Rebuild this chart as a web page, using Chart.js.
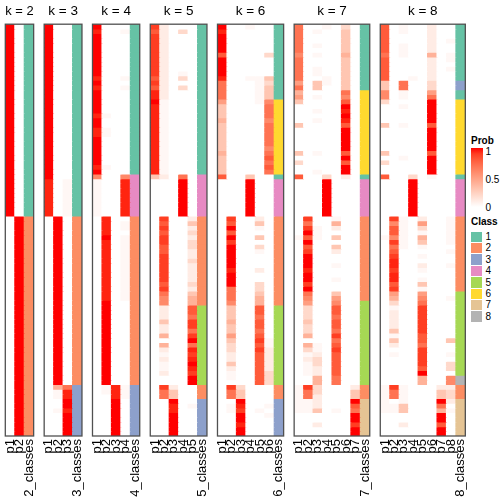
<!DOCTYPE html>
<html>
<head>
<meta charset="utf-8">
<script src="https://cdn.jsdelivr.net/npm/chart.js@4/dist/chart.umd.min.js"></script>
<style>
  body { margin: 0; width: 504px; height: 504px; position: relative; background: #fff; overflow: hidden;
         font-family: "Liberation Sans", Arial, sans-serif; }
  canvas { position: absolute; top: 0; }
  .lg { position: absolute; font-size: 10px; line-height: 10px; color: #000; white-space: nowrap; }
  .sw { position: absolute; width: 11px; height: 10.5px; }
</style>
</head>
<body>
<script>
const kValues = [2, 3, 4, 5, 6, 7, 8];
const nRows = 88;
const classColors = ['#66C2A5', '#FC8D62', '#8DA0CB', '#E78AC3', '#A6D854', '#FFD92F', '#E5C494', '#B3B3B3'];
const classLabels = ['1', '2', '3', '4', '5', '6', '7', '8'];
const probTicks = ['1', '0.5', '0'];

// class of each row, top to bottom, as [class, number of rows]
const cls2 = [[1, 41], [2, 47]];
const cls3 = [[1, 41], [2, 36], [3, 11]];
const cls4 = [[1, 32], [4, 9], [2, 36], [3, 11]];
const cls5 = [[1, 32], [4, 9], [2, 19], [5, 17], [2, 3], [3, 8]];
const cls6 = [[1, 16], [6, 16], [1, 1], [4, 8], [2, 19], [5, 17], [2, 3], [3, 8]];
const cls7 = [[1, 14], [6, 18], [1, 1], [4, 8], [2, 18], [5, 18], [2, 3], [7, 8]];
const cls8 = [[1, 12], [3, 2], [1, 2], [6, 16], [1, 1], [4, 8], [2, 16], [5, 18], [8, 2], [2, 3], [7, 8]];

// membership probability, one char per row (groups of 10 rows)
// 0 = 0, a = faint, 1..9 = 0.1..0.9, h = 0.96, X = 1
const levels = { '0': 0, a: 0.04, '1': 0.1, '2': 0.2, '3': 0.3, '4': 0.4, '5': 0.5, '6': 0.6, '7': 0.7, '8': 0.8, '9': 0.9, h: 0.96, X: 1 };

const prob2 = [
  'XXXXXXXXXX XXXXXXXXXX XXXXXXXXXX XXXXXXXXXX X000000000 0000000000 0000000000 0000000000 00000000',
  '0000000000 0000000000 0000000000 0000000000 0XXXXXXXXX XXXXXXXXXX XXXXXXXXXX XXXXXXXXXX XXXXXXXX'
];
const prob3 = [
  'XXXXXXXXXX XXXXXXXXXX XXXXXXXXXX XXXhhhhhhh h000000000 0000000000 0000000000 0000000000 00000000',
  '0000000000 0000000000 0000000000 0000000000 0XXXXXXXXX XXXXXXXXXX XXXXXXXXXX XXXXXXX4aa 00a00000',
  '0000000000 0000000000 0000000000 000aaaaaaa a000000000 0000000000 0000000000 00000007hh XXhXXXXX'
];
const prob4 = [
  'XhXXXXXXXX XhXhXXXXXh XXhhXXXXXX hX6aaaaaaa a000000000 0000000000 0000000000 0000000000 00000000',
  '0000000000 000000000a 00aa000000 a000000000 0hhhhXhhhh hhhhhhhhhX XXXXXXXXXX XXXXXXXaa0 00000000',
  '0000000000 0000000000 0000000000 0000000000 0000000000 0000000000 0000000000 0000000hhh XXXXXXXX',
  '0a00000000 0a0a000000 0000000000 006hhhhhhh h0aa0aaaaa aaaaaaaaa0 0000000000 0000000aaa 00000000'
];
const prob5 = [
  '9899999999 9898hhXhhh hhhhhhhhhh hh30000000 0000000000 0000000000 0000000000 0000000000 00000000',
  '1111111111 111111aaaa aaaaaaaaaa aa10000000 0989899889 9999989766 1113114041 a1aa100977 00000000',
  '0000000000 0000000000 0000000000 0000000000 0000000000 0000000000 0000000000 0000000133 XhhXXXXX',
  '0200000000 a202000000 0000000000 007XXXXXXX X000000000 0000000000 0000000000 0000000000 00000000',
  '0000000000 0000000000 0000000000 0000000000 0131212211 2111121344 8879979X7h 9hXh9XX000 0a000000'
];
const prob6 = [
  'XhXXXX8XXX Xh77775333 4333333433 3380000000 0000000000 0000000000 0000000000 0000000000 00000000',
  '0000000000 0000000000 0000000000 0000000000 098X8X9XXX XXhXXX7776 3334335322 1131aa0977 0aa00000',
  '0000000000 0000000000 0000000000 0000000000 0000000000 0000000000 0000000000 0000000233 Xh9XXhXX',
  'a000000000 0a00000000 0000000000 003XXXXXXX X000000000 0000000000 0000000000 0000000000 00000000',
  '0000000000 0aaaaaa000 0000000000 0000000000 013a0302a0 0010022344 8878878989 8888888000 00a00000',
  '0000002000 0323336777 6777776787 8700000000 0000000000 0000000000 0000000aa1 1111222000 0a0a0000'
];
const prob7 = [
  '7777776777 7757453000 0300000302 0080000000 00000a0000 0000000000 0000000000 0000000aaa aaa00000',
  '0000000000 0000000000 0000000000 0000000000 0979X8X89X XXhXX9X765 2223224042 a1aaa00977 aaa00000',
  '0a00a0a00a a0330a00a0 a000000a00 0a00000000 000aaa0000 0000000000 00000000aa 1221144221 11300100',
  'a000000000 0aa0000000 0000000000 002XXXXXXX X000000000 0000000000 0000000000 0000000000 00000000',
  '0000000000 0000000000 0000000000 0000000000 0a41030310 0a00a00356 8878879789 8888877000 00a00000',
  '2333334333 3333768XhX h8XXXXX8X8 XX10000000 0000000000 0000000000 0000000000 0000000000 00000000',
  '0000000000 0000000000 0000000000 0000000000 0000000000 0000000000 0000000000 0000000133 X87XX9XX'
];
const prob8 = [
  '8888887888 8833662000 0300000302 0080000000 00000a0000 0000000000 0000000000 0000000aaa aaa00000',
  '0000000000 0000000000 0000000000 0000000000 0968869789 hh9hh89542 a11113a310 a000000977 0aa00000',
  'aa00aaa000 0077aa0a00 0a000000a0 0000000000 0aaaaaaa00 0000000000 0000000000 0000000aaa a3300100',
  '0000000000 0a00000000 0000000000 002XXXXXXX X000000000 0000000000 0000000000 0000000000 00000000',
  '0000000000 0000000000 0000000000 0000000000 0152a43a0a 01a0a3a567 9999998879 9998X44000 00000000',
  '1111114111 112257XXXX X8XXXXX8XX XXa0000000 0000000000 0000000000 0000000000 0000000000 00000000',
  '0000000000 0000000000 0000000000 0000000000 0000000000 0000000000 0000000000 0000000133 X74XX8XX',
  '000a00aa0a 0000000000 0000000000 0000000000 0aaaaaa0a0 0a000000a0 0000000300 a022066122 10a00000'
];

const probs = [prob2, prob3, prob4, prob5, prob6, prob7, prob8];
const classRuns = [cls2, cls3, cls4, cls5, cls6, cls7, cls8];

const FONT = '"Liberation Sans", Arial, sans-serif';

// white -> red in LAB space
function probColor(v) {
  const L = 100 + (53.24 - 100) * v, A = 80.09 * v, B = 67.2 * v;
  const fy = (L + 16) / 116, fx = fy + A / 500, fz = fy - B / 200;
  const f = t => (t ** 3 > 0.008856 ? t ** 3 : (t - 16 / 116) / 7.787);
  const X = 0.95047 * f(fx), Y = f(fy), Z = 1.08883 * f(fz);
  const lin = [3.2406 * X - 1.5372 * Y - 0.4986 * Z,
               -0.9689 * X + 1.8758 * Y + 0.0415 * Z,
               0.0557 * X - 0.2040 * Y + 1.0570 * Z];
  const c = lin.map(u => {
    u = Math.min(1, Math.max(0, u));
    return Math.round(255 * (u <= 0.0031308 ? 12.92 * u : 1.055 * u ** (1 / 2.4) - 0.055));
  });
  return `rgb(${c[0]},${c[1]},${c[2]})`;
}

const frame = {
  id: 'frame',
  afterDatasetsDraw(chart) {
    const { ctx, chartArea: a } = chart;
    ctx.save();
    ctx.strokeStyle = '#505050';
    ctx.lineWidth = 1.3;
    ctx.strokeRect(a.left, a.top, a.right - a.left, a.bottom - a.top);
    ctx.restore();
  }
};

const colW = 9.45, gapW = 10.52;
let panelLeft = 5.3;

kValues.forEach((k, i) => {
  const ncol = k + 1;
  const panelW = ncol * colW;
  const canvasLeft = Math.floor(panelLeft) - 12;
  const canvasW = Math.ceil(panelLeft + panelW + 4) - canvasLeft;
  const padL = panelLeft - canvasLeft;
  const padR = canvasW - padL - panelW;

  const cols = probs[i].map(s => s.replace(/ /g, ''));
  cols.forEach(s => { if (s.length !== nRows) console.error('bad length', k, s.length); });
  const rowClass = [];
  classRuns[i].forEach(([c, n]) => { for (let j = 0; j < n; j++) rowClass.push(c); });

  const labels = cols.map((_, j) => 'p' + (j + 1)).concat(k + '_classes');
  const datasets = [];
  for (let r = 0; r < nRows; r++) {
    datasets.push({
      data: labels.map(() => 1),
      backgroundColor: cols.map(s => probColor(levels[s[r]])).concat(classColors[rowClass[r] - 1]),
      borderWidth: 0,
      inflateAmount: 0.5,
      barPercentage: 1,
      categoryPercentage: 1
    });
  }

  const cv = document.createElement('canvas');
  cv.width = canvasW;
  cv.height = 504;
  cv.style.left = canvasLeft + 'px';
  document.body.appendChild(cv);

  new Chart(cv, {
    type: 'bar',
    data: { labels, datasets },
    options: {
      responsive: false,
      animation: false,
      devicePixelRatio: 1,
      layout: { padding: { left: padL, right: padR, top: 0, bottom: 0 } },
      plugins: {
        legend: { display: false },
        tooltip: { enabled: false },
        title: {
          display: true, text: 'k = ' + k, color: '#000',
          font: { family: FONT, size: 13.5, weight: 'normal' },
          padding: { top: 3, bottom: 5 }
        }
      },
      scales: {
        x: {
          stacked: true, offset: true,
          grid: { display: false, drawTicks: false },
          border: { display: false },
          ticks: { autoSkip: false, minRotation: 90, maxRotation: 90, padding: 3, color: '#000',
                   font: { family: FONT, size: 13 } },
          afterFit(s) { s.height = 68; s.paddingLeft = 0; s.paddingRight = 0; }
        },
        y: { stacked: true, display: false, reverse: true, min: 0, max: nRows }
      }
    },
    plugins: [frame]
  });

  panelLeft += panelW + gapW;
});

// legends
function addText(txt, x, y, bold) {
  const d = document.createElement('div');
  d.className = 'lg';
  d.textContent = txt;
  d.style.left = x + 'px';
  d.style.top = y + 'px';
  if (bold) d.style.fontWeight = 'bold';
  document.body.appendChild(d);
}
addText('Prob', 471, 135.5, true);
const bar = document.createElement('div');
const stops = [];
for (let j = 0; j <= 10; j++) stops.push(probColor(1 - j / 10) + ' ' + (j * 10) + '%');
bar.style.cssText = `position:absolute;left:470.5px;top:148px;width:12px;height:59px;background:linear-gradient(to bottom, ${stops.join(',')})`;
document.body.appendChild(bar);
probTicks.forEach((t, j) => addText(t, 485.5, 147 + j * 27.8));

addText('Class', 471, 216.5, true);
classLabels.forEach((lab, j) => {
  const y = 231.5 + j * 11.4;
  const sw = document.createElement('div');
  sw.className = 'sw';
  sw.style.left = '470.5px';
  sw.style.top = y + 'px';
  sw.style.background = classColors[j];
  document.body.appendChild(sw);
  addText(lab, 485.5, y + 0.5);
});
</script>
</body>
</html>
